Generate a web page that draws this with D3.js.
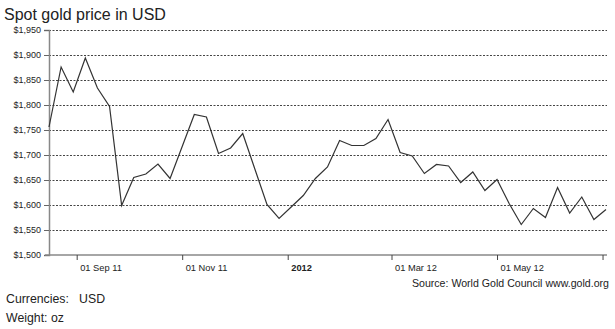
<!DOCTYPE html>
<html>
<head>
<meta charset="utf-8">
<script src="https://cdn.jsdelivr.net/npm/d3@7"></script>
<style>
  body { margin: 0; background: #fff; }
  text { font-family: "Liberation Sans", Arial, sans-serif; fill: #222; }
</style>
</head>
<body>
<script>
const w = 615; // width
const h = 329; // height

// weekly dates and spot price (USD/oz)
const dates = [
    "2011-08-16", "2011-08-23", "2011-08-30", "2011-09-06", "2011-09-13", "2011-09-20",
    "2011-09-27", "2011-10-04", "2011-10-11", "2011-10-18", "2011-10-25", "2011-11-01",
    "2011-11-08", "2011-11-15", "2011-11-22", "2011-11-29", "2011-12-06", "2011-12-13",
    "2011-12-20", "2011-12-27", "2012-01-03", "2012-01-10", "2012-01-17", "2012-01-24",
    "2012-01-31", "2012-02-07", "2012-02-14", "2012-02-21", "2012-02-28", "2012-03-06",
    "2012-03-13", "2012-03-20", "2012-03-27", "2012-04-03", "2012-04-10", "2012-04-17",
    "2012-04-24", "2012-05-01", "2012-05-08", "2012-05-15", "2012-05-22", "2012-05-29",
    "2012-06-05", "2012-06-12", "2012-06-19", "2012-06-26", "2012-07-03"
];
const prices = [
    1756, 1876, 1826, 1894, 1834, 1797,
    1599, 1655, 1662, 1682, 1653, 1717,
    1781, 1776, 1703, 1714, 1743, 1672,
    1601, 1573, 1596, 1619, 1653, 1676,
    1729, 1719, 1719, 1733, 1771, 1705,
    1698, 1663, 1681, 1678, 1645, 1666,
    1629, 1651, 1603, 1561, 1593, 1575,
    1635, 1584, 1616, 1571, 1591
];
const yTicks = [1500, 1550, 1600, 1650, 1700, 1750, 1800, 1850, 1900, 1950];
const xTickDates = ["2011-09-01", "2011-11-01", "2012-01-01", "2012-03-01", "2012-05-01", "2012-07-01"];
const xTickLabels = ["01 Sep 11", "01 Nov 11", "2012", "01 Mar 12", "01 May 12", ""];

const parse = d3.timeParse("%Y-%m-%d");
const dataset = dates.map((d, i) => ({ date: parse(d), price: prices[i] }));

const svg = d3.select("body")
    .append("svg")
    .attr("width", w)
    .attr("height", h);

// scales
const x = d3.scaleTime()
    .domain(d3.extent(dataset, d => d.date))
    .range([49, 606]);

const y = d3.scaleLinear()
    .domain([1500, 1950])
    .range([255, 30]);

// title
svg.append("text")
    .attr("x", 4)
    .attr("y", 20)
    .style("font-size", "16px")
    .text("Spot gold price in USD");

// grid lines
svg.append("g")
    .selectAll("line")
    .data(yTicks.filter(v => v > 1500))
    .enter()
    .append("line")
    .attr("x1", 49)
    .attr("x2", 607)
    .attr("y1", d => y(d) + 0.5)
    .attr("y2", d => y(d) + 0.5)
    .attr("stroke", "#444")
    .attr("stroke-width", 1)
    .attr("stroke-dasharray", "2,1.5");

// y axis
const axisY = d3.axisLeft(y)
    .tickValues(yTicks)
    .tickSize(5)
    .tickPadding(3)
    .tickFormat(d => "$" + d3.format(",")(d));
const gY = svg.append("g")
    .attr("transform", "translate(49,0)")
    .call(axisY);
gY.select(".domain").attr("stroke", "#888").attr("stroke-width", 1.5);
gY.selectAll(".tick line").attr("stroke", "#666");
gY.selectAll(".tick text")
    .style("font-size", "9px")
    .style("font-family", "'Liberation Sans', Arial, sans-serif")
    .attr("fill", "#333");

// x axis
const axisX = d3.axisBottom(x)
    .tickValues(xTickDates.map(parse))
    .tickSizeInner(5)
    .tickSizeOuter(0)
    .tickFormat((d, i) => xTickLabels[i]);
const gX = svg.append("g")
    .attr("transform", "translate(0,255)")
    .call(axisX);
gX.select(".domain")
    .attr("d", "M45,0H607")
    .attr("stroke", "#888")
    .attr("stroke-width", 1.5);
gX.selectAll(".tick line").attr("stroke", "#444");
gX.selectAll(".tick text")
    .attr("text-anchor", "start")
    .attr("x", 3)
    .attr("y", 9)
    .style("font-size", "9.3px")
    .style("font-family", "'Liberation Sans', Arial, sans-serif")
    .style("font-weight", (d, i) => xTickLabels[i] === "2012" ? "bold" : "normal")
    .attr("fill", "#333");

// price line
const line = d3.line()
    .x(d => x(d.date))
    .y(d => y(d.price));
svg.append("path")
    .datum(dataset)
    .attr("d", line)
    .attr("fill", "none")
    .attr("stroke", "#333")
    .attr("stroke-width", 1.2);

// source + notes
svg.append("text")
    .attr("x", 609)
    .attr("y", 287)
    .attr("text-anchor", "end")
    .style("font-size", "10.6px")
    .text("Source: World Gold Council www.gold.org");

svg.append("text")
    .attr("x", 6)
    .attr("y", 303)
    .style("font-size", "12.3px")
    .attr("xml:space", "preserve")
    .text("Currencies:   USD");

svg.append("text")
    .attr("x", 6)
    .attr("y", 322)
    .style("font-size", "12.3px")
    .text("Weight: oz");
</script>
</body>
</html>
